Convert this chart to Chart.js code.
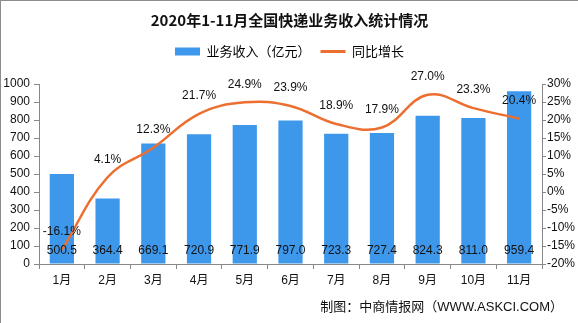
<!DOCTYPE html>
<html>
<head>
<meta charset="utf-8">
<script src="https://cdn.jsdelivr.net/npm/chart.js@4/dist/chart.umd.min.js"></script>
<style>
  html, body { margin: 0; padding: 0; background: #fff; }
  #wrap { position: relative; width: 578px; height: 323px; box-sizing: border-box; border-left: 1px solid #8c8c8c; border-top: 1px solid #8c8c8c; }
  canvas { display: block; }
</style>
</head>
<body>
<div id="wrap"><canvas id="grafico" width="577" height="322"></canvas></div>
<script>
const months = ['1月', '2月', '3月', '4月', '5月', '6月', '7月', '8月', '9月', '10月', '11月'];
const revenue = [500.5, 364.4, 669.1, 720.9, 771.9, 797.0, 723.3, 727.4, 824.3, 811.0, 959.4];
const growth = [-16.1, 4.1, 12.3, 21.7, 24.9, 23.9, 18.9, 17.9, 27.0, 23.3, 20.4];

const fontFamily = '"Liberation Sans", "Noto Sans CJK SC", sans-serif';
const barColor = '#3d97ea';
const lineColor = '#ed6f30';

// espaço extra abaixo da legenda
const legendSpace = {
  id: 'legendSpace',
  beforeInit(chart) {
    const fit = chart.legend.fit;
    chart.legend.fit = function () {
      fit.bind(chart.legend)();
      this.height += 16;
    };
  }
};

// rótulos de valor (dentro da barra e acima da curva) e a fonte no rodapé
const valueLabels = {
  id: 'valueLabels',
  afterDatasetsDraw(chart) {
    const ctx = chart.ctx;
    ctx.save();
    ctx.font = '12px ' + fontFamily;
    ctx.fillStyle = '#111';
    ctx.textAlign = 'center';
    ctx.textBaseline = 'middle';
    chart.getDatasetMeta(0).data.forEach((bar, i) => {
      ctx.fillText(revenue[i].toFixed(1), bar.x, bar.base - 13);
    });
    chart.getDatasetMeta(1).data.forEach((pt, i) => {
      ctx.fillText(growth[i].toFixed(1) + '%', pt.x, pt.y - 18);
    });
    ctx.font = '13px ' + fontFamily;
    ctx.textAlign = 'right';
    ctx.fillText('制图：中商情报网（WWW.ASKCI.COM）', 562, 306);
    ctx.restore();
  }
};

const ctx = document.getElementById('grafico').getContext('2d');
const grafico = new Chart(ctx, {
  data: {
    labels: months,
    datasets: [
      {
        type: 'bar',
        label: '业务收入（亿元）',
        data: revenue,
        backgroundColor: barColor,
        yAxisID: 'y',
        categoryPercentage: 1,
        barPercentage: 0.53,
        order: 2
      },
      {
        type: 'line',
        label: '同比增长',
        data: growth,
        borderColor: lineColor,
        backgroundColor: lineColor,
        borderWidth: 2.5,
        pointRadius: 0,
        tension: 0.4,
        yAxisID: 'y1',
        order: 1
      }
    ]
  },
  options: {
    responsive: false,
    animation: false,
    layout: { padding: { top: 2, left: 0, right: 0, bottom: 29 } },
    plugins: {
      title: {
        display: true,
        text: '2020年1-11月全国快递业务收入统计情况',
        color: '#111',
        font: { family: '"Noto Sans CJK SC", sans-serif', size: 15, weight: 'bold' },
        padding: { top: 8, bottom: 6 }
      },
      legend: {
        display: true,
        position: 'top',
        labels: {
          usePointStyle: true,
          pointStyleWidth: 25,
          boxHeight: 8,
          color: '#111',
          font: { family: '"Noto Sans CJK SC", sans-serif', size: 13 },
          padding: 10,
          generateLabels(chart) {
            return chart.data.datasets.map((ds, i) => ({
              text: ds.label,
              fillStyle: ds.type === 'bar' ? barColor : lineColor,
              strokeStyle: ds.type === 'bar' ? barColor : lineColor,
              lineWidth: ds.type === 'bar' ? 0 : 3,
              pointStyle: ds.type === 'bar' ? 'rect' : 'line',
              hidden: false,
              datasetIndex: i
            }));
          }
        }
      },
      tooltip: { enabled: false }
    },
    scales: {
      x: {
        offset: true,
        grid: { offset: true, drawOnChartArea: false, drawTicks: true, tickLength: 5, color: '#888' },
        border: { color: '#888' },
        ticks: { color: '#111', font: { family: fontFamily, size: 12 }, padding: 4 },
        afterFit(s) { s.height = 30; }
      },
      y: {
        position: 'left',
        min: 0,
        max: 1000,
        ticks: {
          stepSize: 100,
          color: '#111',
          font: { family: fontFamily, size: 12 },
          padding: 4,
          callback: v => String(v)
        },
        grid: { drawOnChartArea: false, tickLength: 5, color: '#888' },
        border: { color: '#888' },
        afterFit(s) { s.width = 38; }
      },
      y1: {
        position: 'right',
        min: -20,
        max: 30,
        ticks: {
          stepSize: 5,
          color: '#111',
          font: { family: fontFamily, size: 12 },
          padding: 1,
          callback: v => v + '%'
        },
        grid: { drawOnChartArea: false, tickLength: 4, color: '#888' },
        border: { color: '#888' },
        afterFit(s) { s.width = 36; }
      }
    }
  },
  plugins: [legendSpace, valueLabels]
});
</script>
</body>
</html>
